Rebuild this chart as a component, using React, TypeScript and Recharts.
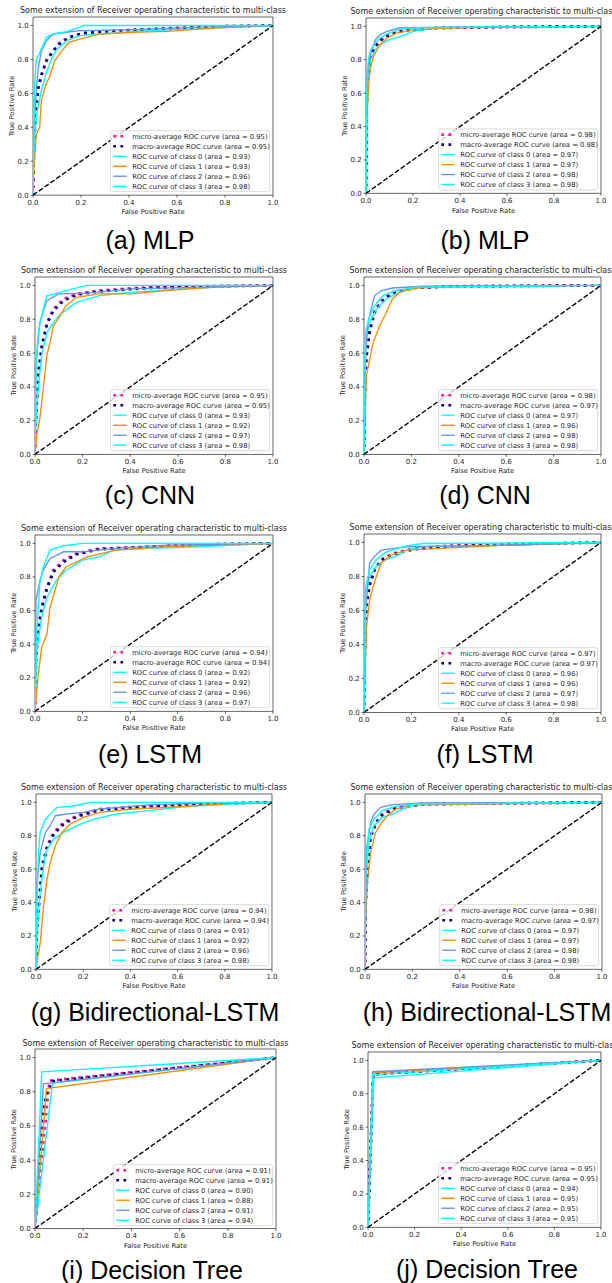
import React from 'react';
import { LineChart, Line, XAxis, YAxis, ReferenceArea } from 'recharts';

type Pt = [number, number];

const tickValues = [0, 0.2, 0.4, 0.6, 0.8, 1.0];
const chartTitle = 'Some extension of Receiver operating characteristic to multi-class';
const xAxisTitle = 'False Positive Rate';
const yAxisTitle = 'True Positive Rate';
const seriesNames = [
  'micro-average ROC curve',
  'macro-average ROC curve',
  'ROC curve of class 0',
  'ROC curve of class 1',
  'ROC curve of class 2',
  'ROC curve of class 3',
];
const captions = [
  '(a) MLP', '(b) MLP', '(c) CNN', '(d) CNN', '(e) LSTM', '(f) LSTM',
  '(g) Bidirectional-LSTM', '(h) Bidirectional-LSTM', '(i) Decision Tree', '(j) Decision Tree',
];
const chance: Pt[] = [[0, 0], [1, 1]];

// (a) MLP
const aMicro: Pt[] = [[0,0],[0.004,0.27],[0.011,0.48],[0.021,0.62],[0.035,0.7],[0.056,0.8],[0.084,0.85],[0.11,0.9],[0.15,0.93],[0.21,0.955],[0.35,0.97],[0.56,0.985],[0.77,0.995],[1,1]];
const aMacro: Pt[] = [[0,0],[0.004,0.28],[0.011,0.47],[0.021,0.63],[0.035,0.71],[0.056,0.79],[0.084,0.85],[0.11,0.89],[0.15,0.93],[0.21,0.955],[0.35,0.97],[0.56,0.98],[0.77,0.995],[1,1]];
const aClass0: Pt[] = [[0,0],[0.005,0.3],[0.014,0.46],[0.035,0.62],[0.055,0.72],[0.076,0.8],[0.1,0.86],[0.14,0.91],[0.195,0.94],[0.28,0.95],[0.39,0.96],[0.48,0.97],[0.7,0.98],[0.84,0.99],[1,1]];
const aClass1: Pt[] = [[0,0],[0.004,0.17],[0.014,0.36],[0.028,0.4],[0.035,0.56],[0.056,0.66],[0.07,0.7],[0.09,0.79],[0.12,0.85],[0.15,0.9],[0.195,0.92],[0.28,0.95],[0.42,0.96],[0.56,0.965],[0.7,0.98],[0.84,0.99],[1,1]];
const aClass2: Pt[] = [[0,0],[0.003,0.36],[0.011,0.56],[0.021,0.74],[0.035,0.85],[0.056,0.91],[0.084,0.95],[0.14,0.96],[0.195,0.97],[0.42,0.975],[0.7,0.99],[1,1]];
const aClass3: Pt[] = [[0,0],[0.007,0.66],[0.014,0.8],[0.035,0.86],[0.056,0.93],[0.084,0.95],[0.13,0.96],[0.195,0.99],[0.21,1],[1,1]];
const aAreas = [0.95, 0.95, 0.93, 0.93, 0.96, 0.98];

// (b) MLP
const bMicro: Pt[] = [[0,0],[0.003,0.55],[0.01,0.74],[0.02,0.82],[0.035,0.87],[0.055,0.91],[0.08,0.94],[0.12,0.96],[0.17,0.98],[0.3,0.99],[0.6,0.997],[1,1]];
const bMacro: Pt[] = [[0,0],[0.003,0.52],[0.01,0.72],[0.02,0.81],[0.035,0.87],[0.055,0.905],[0.08,0.935],[0.12,0.96],[0.17,0.975],[0.3,0.99],[0.6,0.996],[1,1]];
const bClass0: Pt[] = [[0,0],[0.003,0.5],[0.01,0.72],[0.02,0.8],[0.04,0.86],[0.07,0.9],[0.1,0.92],[0.15,0.94],[0.2,0.97],[0.3,0.99],[0.5,0.995],[1,1]];
const bClass1: Pt[] = [[0,0],[0.004,0.45],[0.012,0.66],[0.02,0.76],[0.035,0.83],[0.06,0.89],[0.09,0.93],[0.13,0.96],[0.2,0.98],[0.35,0.99],[0.6,0.995],[1,1]];
const bClass2: Pt[] = [[0,0],[0.003,0.6],[0.01,0.76],[0.025,0.86],[0.04,0.92],[0.06,0.95],[0.09,0.97],[0.14,0.99],[0.3,0.995],[1,1]];
const bClass3: Pt[] = [[0,0],[0.003,0.62],[0.01,0.8],[0.02,0.86],[0.04,0.9],[0.06,0.93],[0.09,0.955],[0.14,0.98],[0.2,0.99],[0.4,0.995],[1,1]];
const bAreas = [0.98, 0.98, 0.97, 0.97, 0.98, 0.98];

// (c) CNN
const cMicro: Pt[] = [[0,0],[0.004,0.19],[0.014,0.49],[0.028,0.64],[0.05,0.78],[0.077,0.86],[0.12,0.92],[0.175,0.95],[0.27,0.97],[0.48,0.99],[0.75,0.997],[1,1]];
const cMacro: Pt[] = [[0,0],[0.004,0.22],[0.014,0.47],[0.028,0.63],[0.05,0.77],[0.077,0.85],[0.12,0.91],[0.175,0.945],[0.27,0.965],[0.48,0.985],[0.75,0.995],[1,1]];
const cClass0: Pt[] = [[0,0],[0.007,0.29],[0.028,0.59],[0.05,0.72],[0.077,0.78],[0.105,0.83],[0.175,0.9],[0.27,0.94],[0.41,0.96],[0.62,0.98],[0.83,0.995],[1,1]];
const cClass1: Pt[] = [[0,0],[0.007,0.11],[0.02,0.21],[0.035,0.39],[0.05,0.59],[0.063,0.66],[0.077,0.76],[0.105,0.82],[0.13,0.88],[0.175,0.93],[0.27,0.95],[0.41,0.95],[0.55,0.97],[0.76,0.99],[1,1]];
const cClass2: Pt[] = [[0,0],[0.004,0.53],[0.02,0.78],[0.05,0.91],[0.1,0.95],[0.22,0.955],[0.41,0.98],[0.69,0.99],[1,1]];
const cClass3: Pt[] = [[0,0],[0.005,0.55],[0.014,0.72],[0.028,0.82],[0.05,0.94],[0.084,0.95],[0.147,0.975],[0.22,1],[1,1]];
const cAreas = [0.95, 0.95, 0.93, 0.92, 0.97, 0.98];

// (d) CNN
const dMicro: Pt[] = [[0,0],[0.004,0.39],[0.01,0.59],[0.024,0.74],[0.045,0.85],[0.073,0.91],[0.12,0.96],[0.21,0.986],[0.39,0.996],[1,1]];
const dMacro: Pt[] = [[0,0],[0.004,0.36],[0.01,0.57],[0.024,0.73],[0.045,0.84],[0.073,0.9],[0.12,0.955],[0.21,0.985],[0.39,0.995],[1,1]];
const dClass0: Pt[] = [[0,0],[0.007,0.69],[0.024,0.78],[0.052,0.86],[0.094,0.92],[0.15,0.96],[0.22,0.986],[0.39,0.995],[1,1]];
const dClass1: Pt[] = [[0,0],[0.007,0.35],[0.01,0.47],[0.024,0.56],[0.038,0.66],[0.066,0.76],[0.094,0.84],[0.12,0.92],[0.15,0.96],[0.22,0.985],[0.32,0.99],[1,1]];
const dClass2: Pt[] = [[0,0],[0.007,0.59],[0.017,0.78],[0.03,0.86],[0.045,0.94],[0.073,0.97],[0.12,0.985],[0.25,0.995],[1,1]];
const dClass3: Pt[] = [[0,0],[0.007,0.73],[0.024,0.82],[0.045,0.88],[0.08,0.94],[0.136,0.97],[0.22,0.99],[1,1]];
const dAreas = [0.98, 0.97, 0.97, 0.96, 0.98, 0.98];

// (e) LSTM
const eMicro: Pt[] = [[0,0],[0.004,0.3],[0.014,0.5],[0.028,0.62],[0.05,0.74],[0.077,0.84],[0.12,0.9],[0.175,0.94],[0.27,0.97],[0.48,0.98],[0.76,0.996],[1,1]];
const eMacro: Pt[] = [[0,0],[0.004,0.32],[0.014,0.49],[0.028,0.61],[0.05,0.73],[0.077,0.83],[0.12,0.89],[0.175,0.935],[0.27,0.965],[0.48,0.98],[0.76,0.995],[1,1]];
const eClass0: Pt[] = [[0,0],[0.007,0.36],[0.028,0.56],[0.05,0.68],[0.09,0.78],[0.13,0.84],[0.2,0.9],[0.27,0.92],[0.33,0.96],[0.48,0.97],[0.69,0.98],[1,1]];
const eClass1: Pt[] = [[0,0],[0.004,0.07],[0.014,0.22],[0.028,0.38],[0.05,0.46],[0.063,0.62],[0.084,0.72],[0.1,0.8],[0.13,0.86],[0.22,0.92],[0.34,0.96],[0.55,0.98],[0.76,0.99],[1,1]];
const eClass2: Pt[] = [[0,0],[0.004,0.66],[0.021,0.78],[0.035,0.84],[0.063,0.91],[0.12,0.95],[0.2,0.95],[0.34,0.97],[0.55,0.99],[1,1]];
const eClass3: Pt[] = [[0,0],[0.007,0.46],[0.02,0.76],[0.035,0.86],[0.063,0.96],[0.12,0.986],[0.2,1],[1,1]];
const eAreas = [0.94, 0.94, 0.92, 0.92, 0.96, 0.97];

// (f) LSTM
const fMicro: Pt[] = [[0,0],[0.004,0.4],[0.01,0.64],[0.024,0.76],[0.045,0.84],[0.073,0.9],[0.12,0.935],[0.21,0.965],[0.39,0.985],[0.74,0.994],[1,1]];
const fMacro: Pt[] = [[0,0],[0.004,0.38],[0.01,0.62],[0.024,0.75],[0.045,0.84],[0.073,0.895],[0.12,0.93],[0.21,0.96],[0.39,0.98],[0.74,0.993],[1,1]];
const fClass0: Pt[] = [[0,0],[0.007,0.7],[0.024,0.8],[0.052,0.86],[0.094,0.9],[0.136,0.92],[0.18,0.955],[0.25,0.975],[0.39,0.98],[0.6,0.985],[1,1]];
const fClass1: Pt[] = [[0,0],[0.004,0.21],[0.01,0.5],[0.024,0.66],[0.038,0.74],[0.052,0.8],[0.073,0.88],[0.11,0.925],[0.18,0.955],[0.32,0.965],[0.6,0.985],[1,1]];
const fClass2: Pt[] = [[0,0],[0.007,0.6],[0.024,0.88],[0.045,0.92],[0.073,0.955],[0.18,0.975],[0.39,0.98],[0.6,0.985],[1,1]];
const fClass3: Pt[] = [[0,0],[0.007,0.74],[0.024,0.84],[0.052,0.9],[0.094,0.945],[0.18,0.98],[0.25,0.994],[1,1]];
const fAreas = [0.97, 0.97, 0.96, 0.96, 0.97, 0.98];

// (g) Bidirectional-LSTM
const gMicro: Pt[] = [[0,0],[0.004,0.26],[0.016,0.46],[0.025,0.62],[0.047,0.74],[0.075,0.82],[0.117,0.88],[0.174,0.92],[0.27,0.96],[0.48,0.98],[0.77,0.994],[1,1]];
const gMacro: Pt[] = [[0,0],[0.004,0.24],[0.016,0.44],[0.025,0.6],[0.047,0.73],[0.075,0.81],[0.117,0.87],[0.174,0.915],[0.27,0.955],[0.48,0.975],[0.77,0.993],[1,1]];
const gClass0: Pt[] = [[0,0],[0.004,0.22],[0.018,0.46],[0.04,0.7],[0.075,0.78],[0.117,0.82],[0.174,0.86],[0.244,0.9],[0.34,0.93],[0.48,0.95],[0.63,0.975],[0.84,0.99],[1,1]];
const gClass1: Pt[] = [[0,0],[0.004,0.04],[0.018,0.16],[0.032,0.38],[0.047,0.54],[0.06,0.64],[0.082,0.74],[0.11,0.82],[0.145,0.87],[0.2,0.91],[0.27,0.94],[0.41,0.96],[0.63,0.975],[0.84,0.995],[1,1]];
const gClass2: Pt[] = [[0,0],[0.004,0.52],[0.018,0.7],[0.04,0.82],[0.06,0.86],[0.082,0.92],[0.13,0.93],[0.2,0.94],[0.27,0.96],[0.48,0.985],[0.7,0.995],[1,1]];
const gClass3: Pt[] = [[0,0],[0.004,0.42],[0.011,0.72],[0.018,0.82],[0.04,0.9],[0.068,0.94],[0.09,0.97],[0.145,0.975],[0.2,0.99],[0.23,1],[1,1]];
const gAreas = [0.94, 0.94, 0.91, 0.92, 0.96, 0.98];

// (h) Bidirectional-LSTM
const hMicro: Pt[] = [[0,0],[0.003,0.42],[0.013,0.66],[0.024,0.8],[0.045,0.88],[0.073,0.93],[0.13,0.97],[0.24,0.99],[1,1]];
const hMacro: Pt[] = [[0,0],[0.003,0.4],[0.013,0.64],[0.024,0.79],[0.045,0.87],[0.073,0.925],[0.13,0.965],[0.24,0.988],[1,1]];
const hClass0: Pt[] = [[0,0],[0.003,0.52],[0.017,0.76],[0.038,0.86],[0.073,0.91],[0.116,0.93],[0.158,0.96],[0.21,0.985],[1,1]];
const hClass1: Pt[] = [[0,0],[0.003,0.32],[0.01,0.52],[0.024,0.7],[0.045,0.82],[0.066,0.87],[0.094,0.92],[0.13,0.96],[0.2,0.985],[1,1]];
const hClass2: Pt[] = [[0,0],[0.006,0.72],[0.024,0.88],[0.038,0.93],[0.066,0.97],[0.116,0.986],[0.24,0.996],[1,1]];
const hClass3: Pt[] = [[0,0],[0.003,0.62],[0.017,0.84],[0.038,0.9],[0.073,0.95],[0.13,0.976],[0.21,0.99],[1,1]];
const hAreas = [0.98, 0.97, 0.97, 0.97, 0.98, 0.98];

// (i) Decision Tree
const iMicro: Pt[] = [[0,0],[0.06,0.865],[1,1]];
const iMacro: Pt[] = [[0,0],[0.028,0.599],[0.035,0.692],[0.048,0.786],[0.073,0.862],[1,1]];
const iClass0: Pt[] = [[0,0],[0.073,0.85],[1,1]];
const iClass1: Pt[] = [[0,0],[0.048,0.818],[1,1]];
const iClass2: Pt[] = [[0,0],[0.035,0.846],[1,1]];
const iClass3: Pt[] = [[0,0],[0.028,0.916],[1,1]];
const iAreas = [0.91, 0.91, 0.90, 0.88, 0.91, 0.94];

// (j) Decision Tree
const jMicro: Pt[] = [[0,0],[0.022,0.917],[1,1]];
const jMacro: Pt[] = [[0,0],[0.021,0.881],[0.025,0.917],[1,1]];
const jClass0: Pt[] = [[0,0],[0.025,0.895],[1,1]];
const jClass1: Pt[] = [[0,0],[0.021,0.926],[1,1]];
const jClass2: Pt[] = [[0,0],[0.021,0.932],[1,1]];
const jClass3: Pt[] = [[0,0],[0.021,0.915],[1,1]];
const jAreas = [0.95, 0.95, 0.94, 0.95, 0.95, 0.95];

const panelCurves: Pt[][][] = [
  [aMicro, aMacro, aClass0, aClass1, aClass2, aClass3],
  [bMicro, bMacro, bClass0, bClass1, bClass2, bClass3],
  [cMicro, cMacro, cClass0, cClass1, cClass2, cClass3],
  [dMicro, dMacro, dClass0, dClass1, dClass2, dClass3],
  [eMicro, eMacro, eClass0, eClass1, eClass2, eClass3],
  [fMicro, fMacro, fClass0, fClass1, fClass2, fClass3],
  [gMicro, gMacro, gClass0, gClass1, gClass2, gClass3],
  [hMicro, hMacro, hClass0, hClass1, hClass2, hClass3],
  [iMicro, iMacro, iClass0, iClass1, iClass2, iClass3],
  [jMicro, jMacro, jClass0, jClass1, jClass2, jClass3],
];
const panelAreas = [aAreas, bAreas, cAreas, dAreas, eAreas, fAreas, gAreas, hAreas, iAreas, jAreas];

// ---- layout (pixel geometry, styles) ----
const layout = [
  { L: 33, R: 273, y1: 25.3, y0: 195, capX: 150, capY: 241 },
  { L: 366, R: 601, y1: 26.3, y0: 193.3, capX: 485, capY: 241 },
  { L: 35, R: 273, y1: 285, y0: 454, capX: 150, capY: 496 },
  { L: 364, R: 601, y1: 285, y0: 454, capX: 485, capY: 496 },
  { L: 35, R: 273, y1: 543, y0: 711, capX: 150, capY: 755 },
  { L: 364, R: 601, y1: 542, y0: 712, capX: 485, capY: 755 },
  { L: 36, R: 272, y1: 802, y0: 969, capX: 155, capY: 1013 },
  { L: 365, R: 602, y1: 802, y0: 969, capX: 487, capY: 1013 },
  { L: 35, R: 276, y1: 1058, y0: 1229, capX: 152, capY: 1271 },
  { L: 368, R: 601, y1: 1060, y0: 1227, capX: 487, capY: 1270 },
];

const DOT = '2.7 4.4';
const seriesStyles = [
  { stroke: '#ff1493', width: 2.7, dash: DOT },
  { stroke: '#000080', width: 2.7, dash: DOT },
  { stroke: '#00ffff', width: 1.35, dash: undefined },
  { stroke: '#ff8c00', width: 1.35, dash: undefined },
  { stroke: '#6495ed', width: 1.35, dash: undefined },
  { stroke: '#00ffff', width: 1.35, dash: undefined },
];

const FONT = '"DejaVu Sans", sans-serif';
const TEXT = '#262626';
const toRows = (pts: Pt[]) => pts.map(([x, y]) => ({ x, y }));
const fmt1 = (v: number) => v.toFixed(1);

function Panel({ idx }: { idx: number }) {
  const g = layout[idx];
  const frameTop = g.y0 - 1.05 * (g.y0 - g.y1);
  const padL = 40, padR = 12, padT = 20, padB = 30;
  const w = g.R - g.L + padL + padR;
  const h = g.y0 - frameTop + padT + padB;
  const curves = panelCurves[idx];
  const tickStyle = { fontSize: 7, fill: TEXT, fontFamily: FONT };
  return (
    <div style={{ position: 'absolute', left: g.L - padL, top: frameTop - padT }}>
      <LineChart width={w} height={h} margin={{ top: padT, right: padR, bottom: 0, left: 0 }}>
        <XAxis
          type="number"
          dataKey="x"
          domain={[0, 1]}
          ticks={tickValues}
          tickFormatter={fmt1}
          height={padB}
          tickSize={2.4}
          tickMargin={2}
          axisLine={false}
          tickLine={{ stroke: '#000', strokeWidth: 0.6 }}
          tick={tickStyle}
          interval={0}
          allowDataOverflow
        />
        <YAxis
          type="number"
          domain={[0, 1.05]}
          ticks={tickValues}
          tickFormatter={fmt1}
          width={padL}
          tickSize={2.4}
          tickMargin={2}
          axisLine={false}
          tickLine={{ stroke: '#000', strokeWidth: 0.6 }}
          tick={tickStyle}
          interval={0}
          allowDataOverflow
        />
        <ReferenceArea x1={0} x2={1} y1={0} y2={1.05} fill="#fff" fillOpacity={0} stroke="#000" strokeWidth={0.6} ifOverflow="visible" />
        {curves.map((c, i) => (
          <Line
            key={i}
            data={toRows(c)}
            dataKey="y"
            type="linear"
            stroke={seriesStyles[i].stroke}
            strokeWidth={seriesStyles[i].width}
            strokeDasharray={seriesStyles[i].dash}
            strokeLinecap="butt"
            dot={false}
            activeDot={false}
            isAnimationActive={false}
          />
        ))}
        <Line
          data={toRows(chance)}
          dataKey="y"
          type="linear"
          stroke="#000"
          strokeWidth={1.35}
          strokeDasharray="5 2.1"
          dot={false}
          activeDot={false}
          isAnimationActive={false}
        />
      </LineChart>
    </div>
  );
}

function Overlay() {
  return (
    <svg width={612} height={1283} style={{ position: 'absolute', left: 0, top: 0, pointerEvents: 'none' }}>
      {layout.map((g, idx) => {
        const frameTop = g.y0 - 1.05 * (g.y0 - g.y1);
        const cx = (g.L + g.R) / 2;
        const cy = (g.y0 + frameTop) / 2;
        const boxW = 159, boxH = 61;
        const bx = g.R - 3.35 - boxW;
        const by = g.y0 - 3.35 - boxH;
        const areas = panelAreas[idx];
        return (
          <g key={idx}>
            <text x={cx} y={frameTop - 3.5} textAnchor="middle" fontFamily={FONT} fontSize={8} fill={TEXT}>{chartTitle}</text>
            <text x={cx} y={g.y0 + 19.2} textAnchor="middle" fontFamily={FONT} fontSize={6.8} fill={TEXT}>{xAxisTitle}</text>
            <text x={0} y={0} transform={`translate(${g.L - 18.8},${cy}) rotate(-90)`} textAnchor="middle" fontFamily={FONT} fontSize={6.8} fill={TEXT}>{yAxisTitle}</text>
            <rect x={bx} y={by} width={boxW} height={boxH} rx={2} fill="#fff" fillOpacity={0.8} stroke="#cccccc" strokeWidth={0.7} />
            {seriesNames.map((name, i) => {
              const ry = by + 5.6 + i * 10;
              const st = seriesStyles[i];
              return (
                <g key={i}>
                  <line x1={bx + 2.7} x2={bx + 16.1} y1={ry} y2={ry} stroke={st.stroke} strokeWidth={st.width} strokeDasharray={st.dash} />
                  <text x={bx + 21.5} y={ry + 2.4} fontFamily={FONT} fontSize={6.8} fill={TEXT}>
                    {`${name} (area = ${areas[i].toFixed(2)})`}
                  </text>
                </g>
              );
            })}
            <text x={g.capX} y={g.capY + 8} textAnchor="middle" fontFamily='"Liberation Sans", Arial, sans-serif' fontSize={25} fill="#000">{captions[idx]}</text>
          </g>
        );
      })}
    </svg>
  );
}

export default function App() {
  return (
    <div style={{ position: 'absolute', left: 0, top: 0, width: 612, height: 1283, background: '#fff', overflow: 'hidden' }}>
      {layout.map((_, i) => <Panel key={i} idx={i} />)}
      <Overlay />
    </div>
  );
}
